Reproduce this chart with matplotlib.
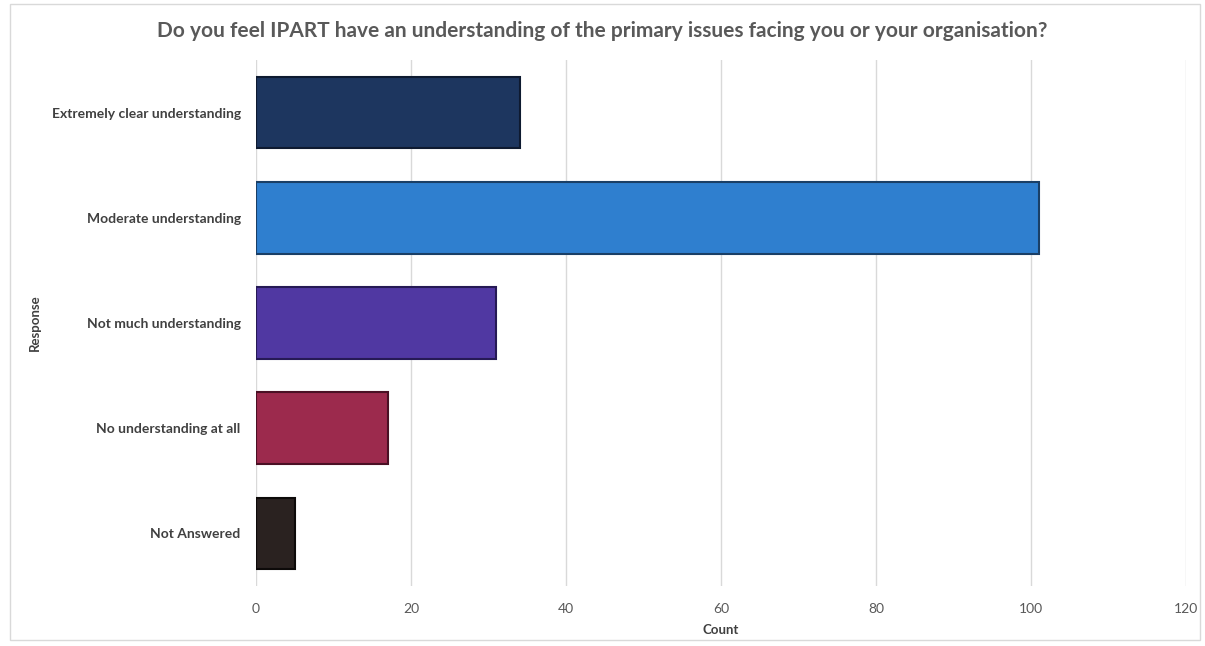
import matplotlib.pyplot as plt
from matplotlib.patches import Rectangle

# Data
responses = ['Extremely clear understanding', 'Moderate understanding',
             'Not much understanding', 'No understanding at all', 'Not Answered']
counts = [34, 101, 31, 17, 5]
bar_colors = ['#1d365f', '#2f7fcf', '#5038a2', '#9c2a4d', '#2a2220']
edge_colors = ['#0e1a30', '#1a3f66', '#261a55', '#4a1024', '#0d0a09']
x_ticks = [0, 20, 40, 60, 80, 100, 120]

plt.rcParams['font.family'] = ['Lato', 'DejaVu Sans']

fig = plt.figure(figsize=(12.05, 6.46), dpi=100)
ax = fig.add_axes([256 / 1205, 1 - 586 / 646, 930 / 1205, 526 / 646])

# light frame around the chart
fig.patches.append(Rectangle((10 / 1205, 6 / 646), 1190 / 1205, 636 / 646,
                             transform=fig.transFigure, fill=False,
                             edgecolor='#d9d9d9', linewidth=1))

y = list(range(len(responses)))
ax.barh(y, counts, height=0.68, color=bar_colors, edgecolor=edge_colors,
        linewidth=1.5, zorder=3)

ax.set_xlim(0, 120)
ax.set_ylim(len(responses) - 0.5, -0.5)
ax.set_xticks(x_ticks)
ax.set_yticks(y)
ax.set_yticklabels(responses, fontweight='bold', fontsize=10, color='#404040')
ax.tick_params(axis='x', labelsize=10, labelcolor='#595959', length=0, pad=12)
ax.tick_params(axis='y', length=0, pad=11)
ax.grid(axis='x', color='#d9d9d9', linewidth=1, zorder=0)
for s in ax.spines.values():
    s.set_visible(False)

ax.set_xlabel('Count', fontweight='bold', fontsize=9.5, color='#404040', labelpad=7)
fig.text(35 / 1205, 1 - 323 / 646, 'Response', rotation=90, ha='center', va='center',
         fontweight='bold', fontsize=9.5, color='#404040')

fig.text(0.5, 1 - 31 / 646,
         'Do you feel IPART have an understanding of the primary issues facing you or your organisation?',
         ha='center', va='center', fontweight='bold', fontsize=15, color='#595959')

fig.savefig('out.png', dpi=100)
